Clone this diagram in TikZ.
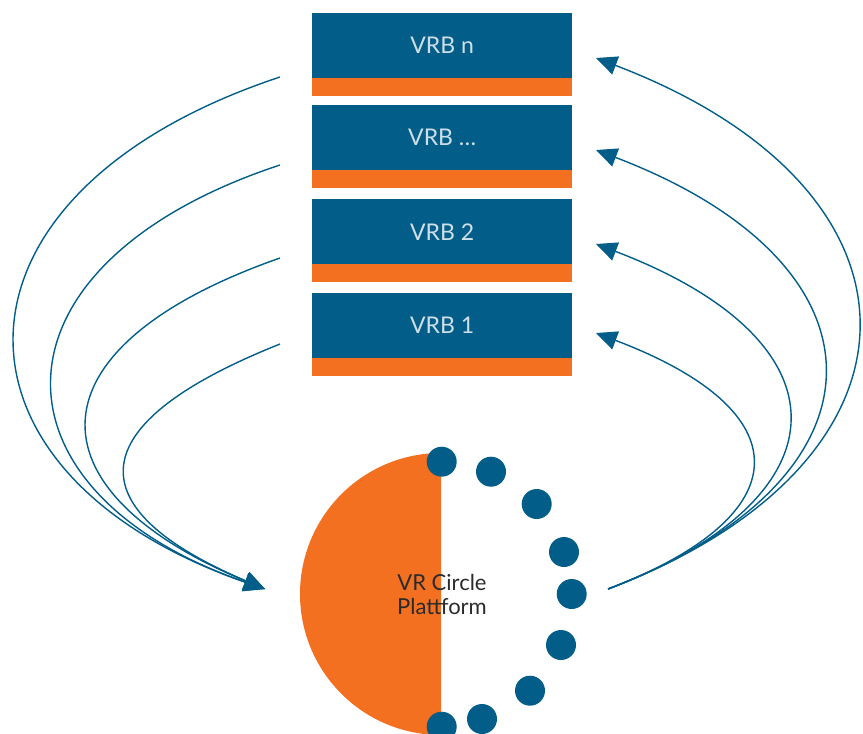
\documentclass[tikz,border=0pt]{standalone}
\usepackage{fontspec}
\setmainfont{Lato}
\usetikzlibrary{arrows.meta}
\definecolor{vrblue}{HTML}{025E89}
\definecolor{vrorange}{HTML}{F37021}
\definecolor{vrtext}{HTML}{CFDFE8}
\definecolor{vrdark}{HTML}{2B2B2B}
\begin{document}
\begin{tikzpicture}[x=1pt,y=-1pt,
  vrbbox/.style={fill=vrblue, minimum width=260pt, minimum height=65pt, inner sep=0pt, text=vrtext, font=\fontsize{23}{26}\selectfont, anchor=north west},
  vrbbar/.style={fill=vrorange, minimum width=260pt, minimum height=18pt, inner sep=0pt, anchor=north west},
  dot/.style={circle, fill=vrblue, minimum size=30pt, inner sep=0pt},
  link/.style={draw=vrblue, line width=1.4pt, -{Triangle[length=21pt,width=19pt]}},
]
\useasboundingbox (0,0) rectangle (863,734);

% boxes
\node[vrbbox] (bn) at (312,13) {VRB n};
\node[vrbbar] (bnbar) at (312,78) {};
\node[vrbbox] (bd) at (312,105) {VRB \dots};
\node[vrbbar] (bdbar) at (312,170) {};
\node[vrbbox] (b2) at (312,199) {VRB 2};
\node[vrbbar] (b2bar) at (312,264) {};
\node[vrbbox] (b1) at (312,293) {VRB 1};
\node[vrbbar] (b1bar) at (312,358) {};

% platform half disc
\begin{scope}
\clip (290,440) rectangle (441,740);
\fill[vrorange] (441,594) circle[radius=141pt];
\end{scope}
\node[font=\fontsize{22}{24}\selectfont, text=vrdark, align=center] (plat) at (442,594) {VR Circle\\Plattform};

% dots
\foreach \n/\px/\py in {1/441.7/461.7, 2/491/471.7, 3/536.7/504, 4/564/552, 5/571.7/594, 6/561/645, 7/530/690.7, 8/482/719, 9/441.7/726.7}
  \node[dot] (d\n) at (\px,\py) {};

% connector end points
\coordinate (ls1) at (280,77);
\coordinate (ls2) at (280,165);
\coordinate (ls3) at (280,258);
\coordinate (ls4) at (280,344);
\coordinate (ltip) at (265,589);
\coordinate (rs) at (608,589);
\coordinate (rt1) at (596,58);
\coordinate (rt2) at (596,150);
\coordinate (rt3) at (596,244);
\coordinate (rt4) at (596,333);

% left connectors
\draw[link] (ls1) .. controls (-70,193) and (-70,473) .. (ltip);
\draw[link] (ls2) .. controls (-20,264) and (-20,490) .. (ltip);
\draw[link] (ls3) .. controls (26,347) and (26,490) .. (ltip);
\draw[link] (ls4) .. controls (77,425) and (77,509) .. (ltip);

% right connectors
\draw[link] (rs) .. controls (943,462) and (943,190) .. (rt1);
\draw[link] (rs) .. controls (898,479) and (898,265) .. (rt2);
\draw[link] (rs) .. controls (851,497) and (851,341) .. (rt3);
\draw[link] (rs) .. controls (802,515) and (802,411) .. (rt4);
\end{tikzpicture}
\end{document}
